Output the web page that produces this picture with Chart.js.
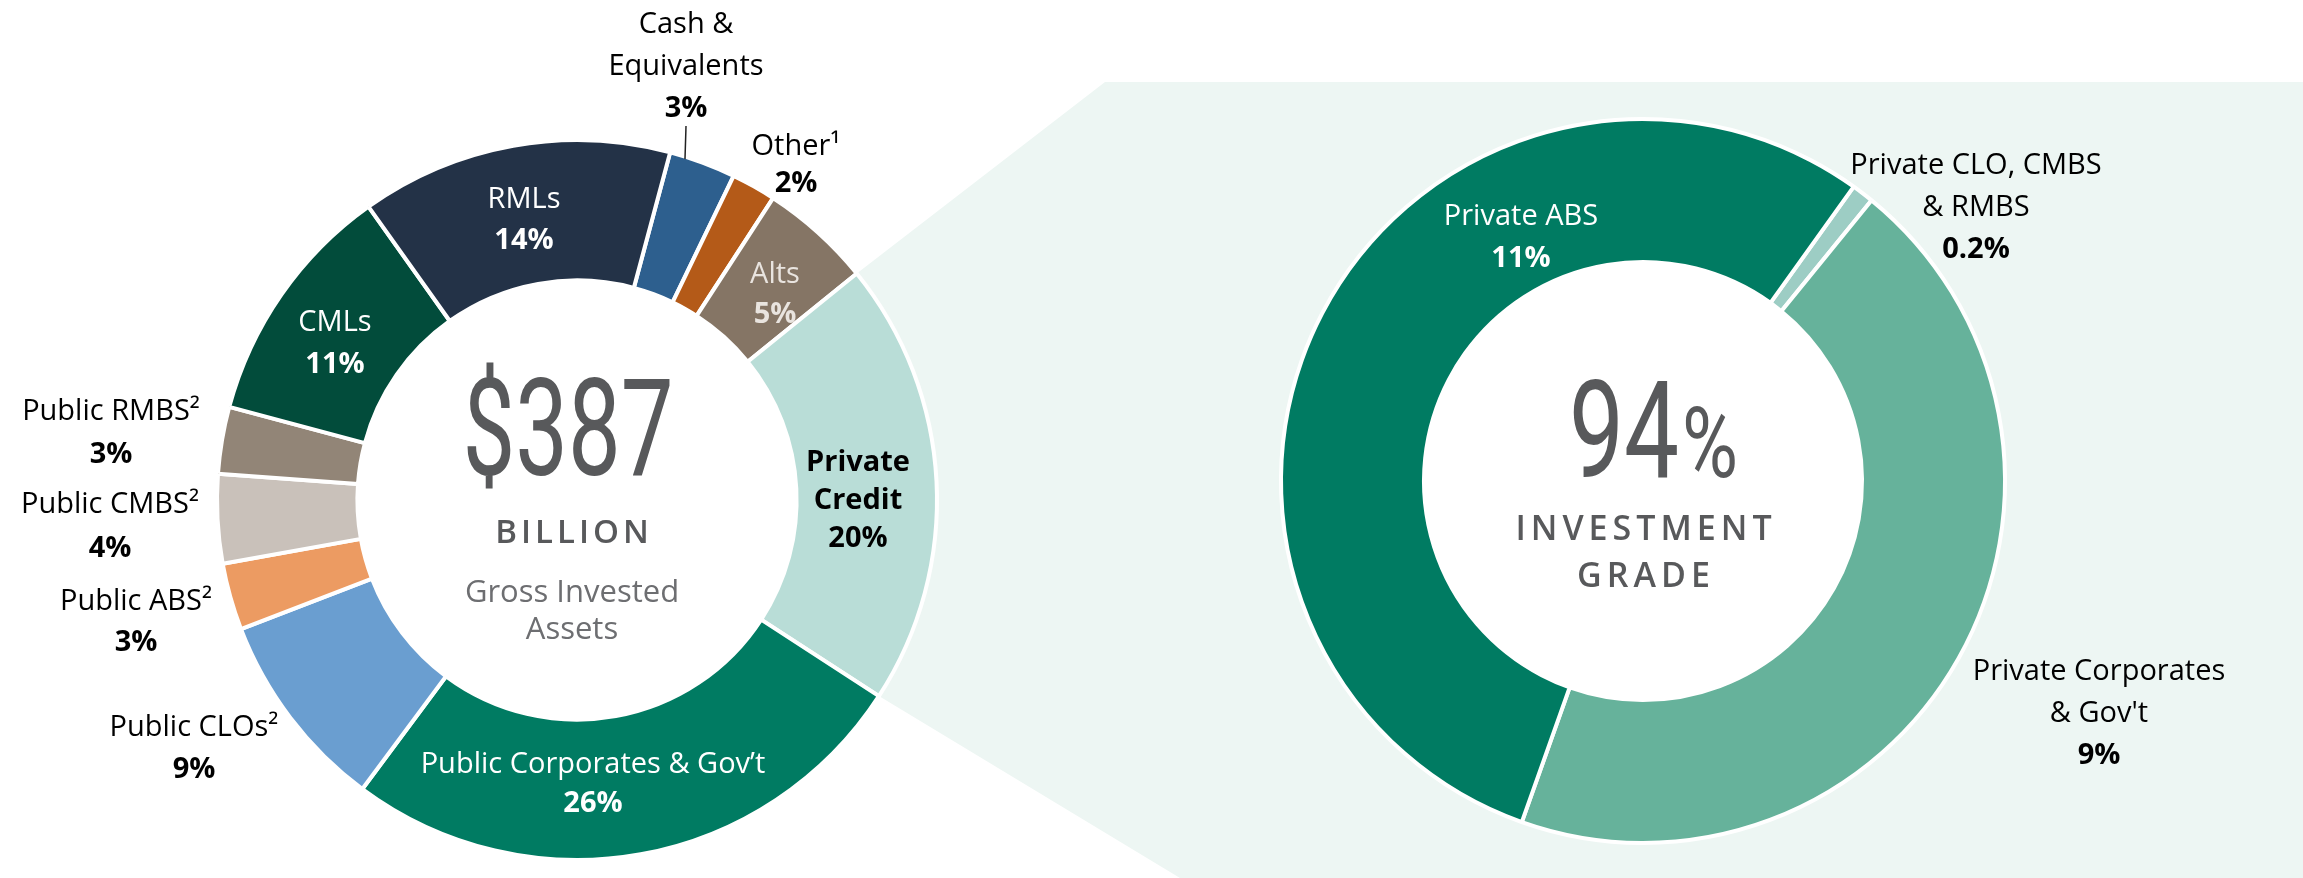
<!DOCTYPE html>
<html>
<head>
<meta charset="utf-8">
<script src="https://cdn.jsdelivr.net/npm/chart.js@4.4.1/dist/chart.umd.min.js"></script>
<style>
  html, body { margin: 0; padding: 0; background: #fff; }
  #wrap { position: relative; width: 2303px; height: 878px; overflow: hidden; }
  #wrap canvas { position: absolute; left: 0; top: 0; }
</style>
</head>
<body>
<div id="wrap">
  <canvas id="assetsChart" width="2303" height="878"></canvas>
  <canvas id="creditChart" width="2303" height="878"></canvas>
</div>
<script>
// Gross invested assets, clockwise starting at Cash
const assetNames = ['Cash &\nEquivalents', 'Other¹', 'Alts', 'Private\nCredit', 'Public Corporates & Gov’t',
    'Public CLOs²', 'Public ABS²', 'Public CMBS²', 'Public RMBS²', 'CMLs', 'RMLs'];
const assetShares = [3, 2, 5, 20, 26, 9, 3, 4, 3, 11, 14];
const assetColors = ['#2d5f8e', '#b45a18', '#857565', '#b9ddd7', '#007b62',
    '#6a9ed0', '#ec9b62', '#c9c1ba', '#928577', '#024c3b', '#233247'];

// Private credit breakdown, clockwise starting at the thin slice
const creditNames = ['Private CLO, CMBS\n& RMBS', "Private Corporates\n& Gov't", 'Private ABS'];
const creditShares = [0.2, 9, 11];
const creditColors = ['#9dcdc4', '#66b29b', '#007b62'];

const totalAssets = '$387';
const investmentGrade = '94';

const FONT = '"Open Sans", "Noto Sans", sans-serif';
const GREY = '#58595b';

// label placement relative to ring centre (text centre x, first baseline y)
const assetLabelPos = [
    { dx: 109, dy: -467, lh: 42, color: '#000', leader: [109, -374, -341] },
    { dx: 219, dy: -345, lh: 37, color: '#000' },
    { dx: 198, dy: -217, lh: 40, color: '#e9e4df' },
    { dx: 281, dy: -29, lh: 38, color: '#000', boldName: true },
    { dx: 16, dy: 273, lh: 39, color: '#fff' },
    { dx: -383, dy: 236, lh: 42, color: '#000' },
    { dx: -441, dy: 110, lh: 41, color: '#000' },
    { dx: -467, dy: 13, lh: 44, color: '#000' },
    { dx: -466, dy: -80, lh: 43, color: '#000' },
    { dx: -242, dy: -169, lh: 42, color: '#fff' },
    { dx: -53, dy: -292, lh: 41, color: '#fff' }
];
const creditLabelPos = [
    { dx: 333, dy: -307, lh: 42, color: '#000' },
    { dx: 456, dy: 199, lh: 42, color: '#000' },
    { dx: -122, dy: -256, lh: 42, color: '#fff' }
];

function sliceLabels(names, values, layout) {
    return {
        id: 'sliceLabels',
        afterDatasetsDraw(chart) {
            const ctx = chart.ctx;
            const arc = chart.getDatasetMeta(0).data[0];
            const cx = arc.x, cy = arc.y;
            ctx.save();
            ctx.textAlign = 'center';
            ctx.textBaseline = 'alphabetic';
            names.forEach((name, i) => {
                const pos = layout[i];
                const lines = name.split('\n').map(t => ({ t, bold: !!pos.boldName }));
                lines.push({ t: values[i] + '%', bold: true });
                ctx.fillStyle = pos.color;
                lines.forEach((ln, j) => {
                    ctx.font = (ln.bold ? '700 ' : '400 ') + '29px ' + FONT;
                    ctx.fillText(ln.t, cx + pos.dx, cy + pos.dy + j * pos.lh);
                });
                if (pos.leader) {
                    ctx.strokeStyle = '#222';
                    ctx.lineWidth = 1.5;
                    ctx.beginPath();
                    ctx.moveTo(cx + pos.leader[0], cy + pos.leader[1]);
                    ctx.lineTo(cx + pos.leader[0] - 1, cy + pos.leader[2]);
                    ctx.stroke();
                }
            });
            ctx.restore();
        }
    };
}

function condensed(ctx, text, x, y, size, sx, align) {
    ctx.save();
    ctx.font = '400 ' + size + 'px Roboto';
    ctx.translate(x, y);
    ctx.scale(sx, 1);
    ctx.textAlign = align || 'center';
    ctx.fillText(text, 0, 0);
    ctx.restore();
}

// light green "zoom" panel fanning out of the Private Credit slice
const zoomPanel = {
    id: 'zoomPanel',
    beforeDatasetsDraw(chart) {
        const a = chart.getDatasetMeta(0).data[3];
        const r = a.outerRadius;
        const ctx = chart.ctx;
        ctx.save();
        ctx.fillStyle = '#edf6f3';
        ctx.beginPath();
        ctx.moveTo(a.x + r * Math.cos(a.startAngle), a.y + r * Math.sin(a.startAngle));
        ctx.lineTo(1105, 82);
        ctx.lineTo(chart.width, 82);
        ctx.lineTo(chart.width, chart.height);
        ctx.lineTo(1180, chart.height);
        ctx.lineTo(a.x + r * Math.cos(a.endAngle), a.y + r * Math.sin(a.endAngle));
        ctx.closePath();
        ctx.fill();
        ctx.restore();
    }
};

// white hole for the right ring (it sits on the green panel)
const whiteHole = {
    id: 'whiteHole',
    beforeDatasetsDraw(chart) {
        const a = chart.getDatasetMeta(0).data[0];
        const ctx = chart.ctx;
        ctx.save();
        ctx.fillStyle = '#ffffff';
        ctx.beginPath();
        ctx.arc(a.x, a.y, a.innerRadius + 2, 0, Math.PI * 2);
        ctx.fill();
        ctx.restore();
    }
};

const assetCentre = {
    id: 'assetCentre',
    afterDraw(chart) {
        const a = chart.getDatasetMeta(0).data[0];
        const ctx = chart.ctx;
        ctx.save();
        ctx.fillStyle = GREY;
        condensed(ctx, totalAssets, a.x - 9, a.y - 25, 136, 0.69);
        ctx.textAlign = 'center';
        ctx.font = '600 33px ' + FONT;
        ctx.letterSpacing = '4px';
        ctx.fillText('BILLION', a.x - 3, a.y + 43);
        ctx.letterSpacing = '0px';
        ctx.fillStyle = '#6d6e71';
        ctx.font = '400 31px ' + FONT;
        ctx.fillText('Gross Invested', a.x - 5, a.y + 102);
        ctx.fillText('Assets', a.x - 5, a.y + 139);
        ctx.restore();
    }
};

const creditCentre = {
    id: 'creditCentre',
    afterDraw(chart) {
        const a = chart.getDatasetMeta(0).data[0];
        const ctx = chart.ctx;
        ctx.save();
        ctx.fillStyle = GREY;
        ctx.font = '400 136px Roboto';
        const wNum = ctx.measureText(investmentGrade).width * 0.72;
        ctx.font = '400 98px Roboto';
        const wPct = ctx.measureText('%').width * 0.78;
        const left = a.x + 9 - (wNum + wPct) / 2;
        condensed(ctx, investmentGrade, left, a.y - 4, 136, 0.72, 'left');
        condensed(ctx, '%', left + wNum + 3, a.y - 4, 98, 0.78, 'left');
        ctx.textAlign = 'center';
        ctx.font = '600 34px ' + FONT;
        ctx.letterSpacing = '5px';
        ctx.fillText('INVESTMENT', a.x + 3, a.y + 59);
        ctx.fillText('GRADE', a.x + 3, a.y + 106);
        ctx.restore();
    }
};

Chart.defaults.font.family = FONT;

new Chart(document.getElementById('assetsChart'), {
    type: 'doughnut',
    data: {
        labels: assetNames,
        datasets: [{
            data: assetShares,
            backgroundColor: assetColors,
            borderColor: '#ffffff',
            borderWidth: 4
        }]
    },
    options: {
        responsive: false,
        animation: false,
        events: [],
        rotation: 15,
        radius: 360,
        cutout: '61%',
        layout: { padding: { left: 0, right: 1149, top: 122, bottom: 0 } },
        plugins: { legend: { display: false }, tooltip: { enabled: false } }
    },
    plugins: [zoomPanel, sliceLabels(assetNames, assetShares, assetLabelPos), assetCentre]
});

new Chart(document.getElementById('creditChart'), {
    type: 'doughnut',
    data: {
        labels: creditNames,
        datasets: [{
            data: creditShares,
            backgroundColor: creditColors,
            borderColor: '#ffffff',
            borderWidth: 4
        }]
    },
    options: {
        responsive: false,
        animation: false,
        events: [],
        rotation: 35.6,
        radius: 362,
        cutout: '60.5%',
        layout: { padding: { left: 983, right: 0, top: 84, bottom: 0 } },
        plugins: { legend: { display: false }, tooltip: { enabled: false } }
    },
    plugins: [whiteHole, sliceLabels(creditNames, creditShares, creditLabelPos), creditCentre]
});
</script>
</body>
</html>
